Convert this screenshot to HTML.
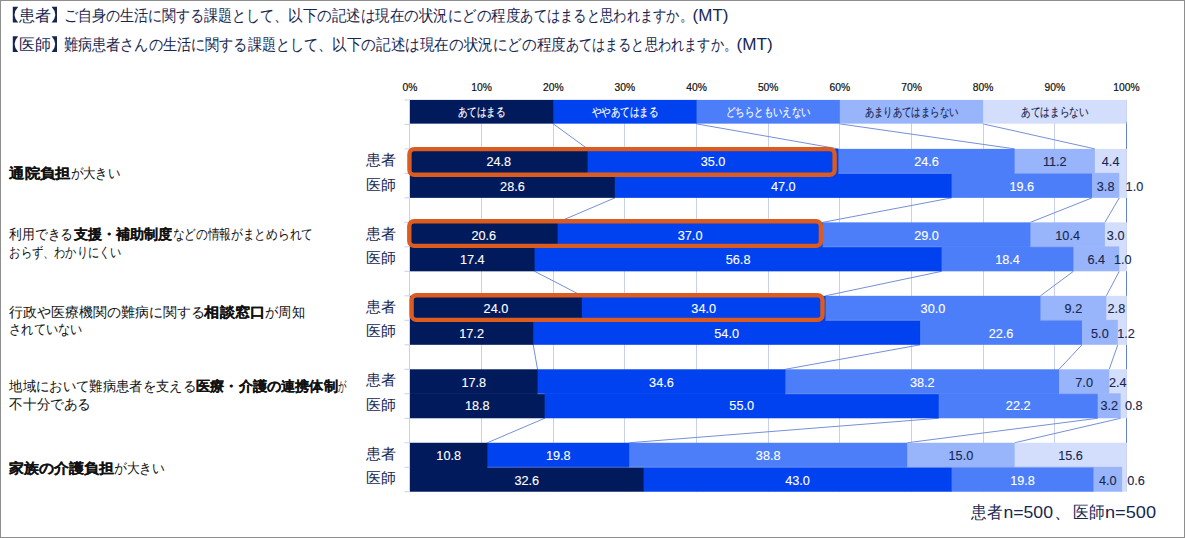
<!DOCTYPE html>
<html lang="ja">
<head>
<meta charset="utf-8">
<title>chart</title>
<style>
html,body{margin:0;padding:0;background:#fff;}
body{width:1185px;height:538px;overflow:hidden;font-family:"Liberation Sans",sans-serif;}
svg{display:block;}
</style>
</head>
<body>
<svg width="1185" height="538" viewBox="0 0 1185 538" font-family="'Liberation Sans', sans-serif">
<rect x="0" y="0" width="1185" height="538" fill="#fff"/>
<g stroke="#c9d0ee" stroke-width="1" fill="none">
<line x1="409.50" y1="99.90" x2="409.50" y2="491.74"/>
<line x1="481.50" y1="99.90" x2="481.50" y2="491.74"/>
<line x1="553.50" y1="99.90" x2="553.50" y2="491.74"/>
<line x1="624.50" y1="99.90" x2="624.50" y2="491.74"/>
<line x1="696.50" y1="99.90" x2="696.50" y2="491.74"/>
<line x1="768.50" y1="99.90" x2="768.50" y2="491.74"/>
<line x1="839.50" y1="99.90" x2="839.50" y2="491.74"/>
<line x1="911.50" y1="99.90" x2="911.50" y2="491.74"/>
<line x1="983.50" y1="99.90" x2="983.50" y2="491.74"/>
<line x1="1054.50" y1="99.90" x2="1054.50" y2="491.74"/>
<line x1="1126.50" y1="99.90" x2="1126.50" y2="491.74"/>
<line x1="404.50" y1="99.90" x2="410.00" y2="99.90"/>
<line x1="404.50" y1="124.39" x2="410.00" y2="124.39"/>
<line x1="404.50" y1="148.88" x2="410.00" y2="148.88"/>
<line x1="404.50" y1="173.37" x2="410.00" y2="173.37"/>
<line x1="404.50" y1="197.86" x2="410.00" y2="197.86"/>
<line x1="404.50" y1="222.35" x2="410.00" y2="222.35"/>
<line x1="404.50" y1="246.84" x2="410.00" y2="246.84"/>
<line x1="404.50" y1="271.33" x2="410.00" y2="271.33"/>
<line x1="404.50" y1="295.82" x2="410.00" y2="295.82"/>
<line x1="404.50" y1="320.31" x2="410.00" y2="320.31"/>
<line x1="404.50" y1="344.80" x2="410.00" y2="344.80"/>
<line x1="404.50" y1="369.29" x2="410.00" y2="369.29"/>
<line x1="404.50" y1="393.78" x2="410.00" y2="393.78"/>
<line x1="404.50" y1="418.27" x2="410.00" y2="418.27"/>
<line x1="404.50" y1="442.76" x2="410.00" y2="442.76"/>
<line x1="404.50" y1="467.25" x2="410.00" y2="467.25"/>
<line x1="404.50" y1="491.74" x2="410.00" y2="491.74"/>
</g>
<g stroke="#7690d6" stroke-width="1" fill="none">
<line x1="553.28" y1="123.89" x2="587.67" y2="148.88"/>
<line x1="696.56" y1="123.89" x2="838.41" y2="148.88"/>
<line x1="839.84" y1="123.89" x2="1014.64" y2="148.88"/>
<line x1="983.12" y1="123.89" x2="1094.88" y2="148.88"/>
<line x1="1126.5" y1="121.89" x2="1126.5" y2="148.88" stroke="#6581cc"/>
<line x1="587.67" y1="173.37" x2="614.89" y2="173.37"/>
<line x1="838.41" y1="173.37" x2="951.60" y2="173.37"/>
<line x1="1014.64" y1="173.37" x2="1092.01" y2="173.37"/>
<line x1="1094.88" y1="173.37" x2="1119.24" y2="173.37"/>
<line x1="1126.5" y1="173.37" x2="1126.5" y2="173.37" stroke="#6581cc"/>
<line x1="614.89" y1="197.86" x2="557.58" y2="222.35"/>
<line x1="951.60" y1="197.86" x2="822.65" y2="222.35"/>
<line x1="1092.01" y1="197.86" x2="1030.40" y2="222.35"/>
<line x1="1119.24" y1="197.86" x2="1104.91" y2="222.35"/>
<line x1="1126.5" y1="197.86" x2="1126.5" y2="222.35" stroke="#6581cc"/>
<line x1="557.58" y1="246.84" x2="534.65" y2="246.84"/>
<line x1="822.65" y1="246.84" x2="941.57" y2="246.84"/>
<line x1="1030.40" y1="246.84" x2="1073.39" y2="246.84"/>
<line x1="1104.91" y1="246.84" x2="1119.24" y2="246.84"/>
<line x1="1126.5" y1="246.84" x2="1126.5" y2="246.84" stroke="#6581cc"/>
<line x1="534.65" y1="271.33" x2="581.94" y2="295.82"/>
<line x1="941.57" y1="271.33" x2="825.51" y2="295.82"/>
<line x1="1073.39" y1="271.33" x2="1040.43" y2="295.82"/>
<line x1="1119.24" y1="271.33" x2="1106.34" y2="295.82"/>
<line x1="1126.5" y1="271.33" x2="1126.5" y2="295.82" stroke="#6581cc"/>
<line x1="581.94" y1="320.31" x2="533.22" y2="320.31"/>
<line x1="825.51" y1="320.31" x2="920.08" y2="320.31"/>
<line x1="1040.43" y1="320.31" x2="1081.98" y2="320.31"/>
<line x1="1106.34" y1="320.31" x2="1117.80" y2="320.31"/>
<line x1="1126.5" y1="320.31" x2="1126.5" y2="320.31" stroke="#6581cc"/>
<line x1="533.22" y1="344.80" x2="537.52" y2="369.29"/>
<line x1="920.08" y1="344.80" x2="785.39" y2="369.29"/>
<line x1="1081.98" y1="344.80" x2="1059.06" y2="369.29"/>
<line x1="1117.80" y1="344.80" x2="1109.21" y2="369.29"/>
<line x1="1126.5" y1="344.80" x2="1126.5" y2="369.29" stroke="#6581cc"/>
<line x1="537.52" y1="393.78" x2="544.68" y2="393.78"/>
<line x1="785.39" y1="393.78" x2="938.70" y2="393.78"/>
<line x1="1059.06" y1="393.78" x2="1097.74" y2="393.78"/>
<line x1="1109.21" y1="393.78" x2="1120.67" y2="393.78"/>
<line x1="1126.5" y1="393.78" x2="1126.5" y2="393.78" stroke="#6581cc"/>
<line x1="544.68" y1="418.27" x2="487.37" y2="442.76"/>
<line x1="938.70" y1="418.27" x2="629.22" y2="442.76"/>
<line x1="1097.74" y1="418.27" x2="907.18" y2="442.76"/>
<line x1="1120.67" y1="418.27" x2="1014.64" y2="442.76"/>
<line x1="1126.5" y1="418.27" x2="1126.5" y2="442.76" stroke="#6581cc"/>
<line x1="487.37" y1="467.25" x2="643.55" y2="467.25"/>
<line x1="629.22" y1="467.25" x2="951.60" y2="467.25"/>
<line x1="907.18" y1="467.25" x2="1093.45" y2="467.25"/>
<line x1="1014.64" y1="467.25" x2="1122.10" y2="467.25"/>
<line x1="1126.5" y1="467.25" x2="1126.5" y2="467.25" stroke="#6581cc"/>
</g>
<rect x="982.52" y="99.90" width="143.88" height="23.74" fill="#d3defc"/>
<rect x="839.24" y="99.90" width="143.88" height="23.74" fill="#98b5fb"/>
<rect x="695.96" y="99.90" width="143.88" height="23.74" fill="#4d7ef9"/>
<rect x="552.68" y="99.90" width="143.88" height="23.74" fill="#0041f0"/>
<rect x="410.00" y="99.90" width="143.28" height="23.74" fill="#011a5c"/>
<rect x="1118.64" y="172.77" width="7.76" height="25.09" fill="#d3defc"/>
<rect x="1091.41" y="172.77" width="27.82" height="25.09" fill="#98b5fb"/>
<rect x="951.00" y="172.77" width="141.01" height="25.09" fill="#4d7ef9"/>
<rect x="614.29" y="172.77" width="337.31" height="25.09" fill="#0041f0"/>
<rect x="410.00" y="172.77" width="204.89" height="25.09" fill="#011a5c"/>
<rect x="1118.64" y="246.24" width="7.76" height="25.09" fill="#d3defc"/>
<rect x="1072.79" y="246.24" width="46.45" height="25.09" fill="#98b5fb"/>
<rect x="940.97" y="246.24" width="132.42" height="25.09" fill="#4d7ef9"/>
<rect x="534.05" y="246.24" width="407.52" height="25.09" fill="#0041f0"/>
<rect x="410.00" y="246.24" width="124.65" height="25.09" fill="#011a5c"/>
<rect x="1117.20" y="319.71" width="9.20" height="25.09" fill="#d3defc"/>
<rect x="1081.38" y="319.71" width="36.42" height="25.09" fill="#98b5fb"/>
<rect x="919.48" y="319.71" width="162.51" height="25.09" fill="#4d7ef9"/>
<rect x="532.62" y="319.71" width="387.46" height="25.09" fill="#0041f0"/>
<rect x="410.00" y="319.71" width="123.22" height="25.09" fill="#011a5c"/>
<rect x="1120.07" y="393.18" width="6.33" height="25.09" fill="#d3defc"/>
<rect x="1097.14" y="393.18" width="23.52" height="25.09" fill="#98b5fb"/>
<rect x="938.10" y="393.18" width="159.64" height="25.09" fill="#4d7ef9"/>
<rect x="544.08" y="393.18" width="394.62" height="25.09" fill="#0041f0"/>
<rect x="410.00" y="393.18" width="134.68" height="25.09" fill="#011a5c"/>
<rect x="1121.50" y="466.65" width="4.90" height="25.09" fill="#d3defc"/>
<rect x="1092.85" y="466.65" width="29.26" height="25.09" fill="#98b5fb"/>
<rect x="951.00" y="466.65" width="142.45" height="25.09" fill="#4d7ef9"/>
<rect x="642.95" y="466.65" width="308.65" height="25.09" fill="#0041f0"/>
<rect x="410.00" y="466.65" width="233.55" height="25.09" fill="#011a5c"/>
<rect x="1094.28" y="148.88" width="32.12" height="24.49" fill="#d3defc"/>
<rect x="1014.04" y="148.88" width="80.84" height="24.49" fill="#98b5fb"/>
<rect x="837.81" y="148.88" width="176.83" height="24.49" fill="#4d7ef9"/>
<rect x="587.07" y="148.88" width="251.34" height="24.49" fill="#0041f0"/>
<rect x="410.00" y="148.88" width="177.67" height="24.49" fill="#011a5c"/>
<rect x="1104.31" y="222.35" width="22.09" height="24.49" fill="#d3defc"/>
<rect x="1029.80" y="222.35" width="75.11" height="24.49" fill="#98b5fb"/>
<rect x="822.05" y="222.35" width="208.36" height="24.49" fill="#4d7ef9"/>
<rect x="556.98" y="222.35" width="265.67" height="24.49" fill="#0041f0"/>
<rect x="410.00" y="222.35" width="147.58" height="24.49" fill="#011a5c"/>
<rect x="1105.74" y="295.82" width="20.66" height="24.49" fill="#d3defc"/>
<rect x="1039.83" y="295.82" width="66.51" height="24.49" fill="#98b5fb"/>
<rect x="824.91" y="295.82" width="215.52" height="24.49" fill="#4d7ef9"/>
<rect x="581.34" y="295.82" width="244.18" height="24.49" fill="#0041f0"/>
<rect x="410.00" y="295.82" width="171.94" height="24.49" fill="#011a5c"/>
<rect x="1108.61" y="369.29" width="17.79" height="24.49" fill="#d3defc"/>
<rect x="1058.46" y="369.29" width="50.75" height="24.49" fill="#98b5fb"/>
<rect x="784.79" y="369.29" width="274.26" height="24.49" fill="#4d7ef9"/>
<rect x="536.92" y="369.29" width="248.47" height="24.49" fill="#0041f0"/>
<rect x="410.00" y="369.29" width="127.52" height="24.49" fill="#011a5c"/>
<rect x="1014.04" y="442.76" width="112.36" height="24.49" fill="#d3defc"/>
<rect x="906.58" y="442.76" width="108.06" height="24.49" fill="#98b5fb"/>
<rect x="628.62" y="442.76" width="278.56" height="24.49" fill="#4d7ef9"/>
<rect x="486.77" y="442.76" width="142.45" height="24.49" fill="#0041f0"/>
<rect x="410.00" y="442.76" width="77.37" height="24.49" fill="#011a5c"/>
<g stroke="#8fa8ee" stroke-width="1" opacity="0.55" fill="none">
<line x1="587.67" y1="173.37" x2="614.89" y2="173.37"/>
<line x1="838.41" y1="173.37" x2="951.60" y2="173.37"/>
<line x1="1014.64" y1="173.37" x2="1092.01" y2="173.37"/>
<line x1="1094.88" y1="173.37" x2="1119.24" y2="173.37"/>
<line x1="534.65" y1="246.84" x2="557.58" y2="246.84"/>
<line x1="822.65" y1="246.84" x2="941.57" y2="246.84"/>
<line x1="1030.40" y1="246.84" x2="1073.39" y2="246.84"/>
<line x1="1104.91" y1="246.84" x2="1119.24" y2="246.84"/>
<line x1="533.22" y1="320.31" x2="581.94" y2="320.31"/>
<line x1="825.51" y1="320.31" x2="920.08" y2="320.31"/>
<line x1="1040.43" y1="320.31" x2="1081.98" y2="320.31"/>
<line x1="1106.34" y1="320.31" x2="1117.80" y2="320.31"/>
<line x1="537.52" y1="393.78" x2="544.68" y2="393.78"/>
<line x1="785.39" y1="393.78" x2="938.70" y2="393.78"/>
<line x1="1059.06" y1="393.78" x2="1097.74" y2="393.78"/>
<line x1="1109.21" y1="393.78" x2="1120.67" y2="393.78"/>
<line x1="487.37" y1="467.25" x2="643.55" y2="467.25"/>
<line x1="629.22" y1="467.25" x2="951.60" y2="467.25"/>
<line x1="907.18" y1="467.25" x2="1093.45" y2="467.25"/>
<line x1="1014.64" y1="467.25" x2="1122.10" y2="467.25"/>
</g>
<rect x="409.45" y="149.15" width="425.15" height="25.65" rx="4.8" ry="4.8" fill="none" stroke="#db5c1e" stroke-width="4.4"/>
<rect x="409.30" y="221.20" width="411.60" height="24.70" rx="4.8" ry="4.8" fill="none" stroke="#db5c1e" stroke-width="4.4"/>
<rect x="411.60" y="295.20" width="410.90" height="24.70" rx="4.8" ry="4.8" fill="none" stroke="#db5c1e" stroke-width="4.4"/>
<g font-size="10.3" fill="#111" stroke="#111" stroke-width="0.2" text-anchor="middle">
<text x="410.00" y="90.9">0%</text>
<text x="481.64" y="90.9">10%</text>
<text x="553.28" y="90.9">20%</text>
<text x="624.92" y="90.9">30%</text>
<text x="696.56" y="90.9">40%</text>
<text x="768.20" y="90.9">50%</text>
<text x="839.84" y="90.9">60%</text>
<text x="911.48" y="90.9">70%</text>
<text x="983.12" y="90.9">80%</text>
<text x="1054.76" y="90.9">90%</text>
<text x="1126.40" y="90.9">100%</text>
</g>
<g font-size="11.5" text-anchor="middle">
<text x="481.64" y="116.3" fill="#fff" stroke="#fff" stroke-width="0.15" textLength="48.0" lengthAdjust="spacingAndGlyphs">あてはまる</text>
<text x="624.92" y="116.3" fill="#fff" stroke="#fff" stroke-width="0.15" textLength="66.5" lengthAdjust="spacingAndGlyphs">ややあてはまる</text>
<text x="768.20" y="116.3" fill="#fff" stroke="#fff" stroke-width="0.15" textLength="84.1" lengthAdjust="spacingAndGlyphs">どちらともいえない</text>
<text x="911.48" y="116.3" fill="#17264f" stroke="#17264f" stroke-width="0.15" textLength="93.7" lengthAdjust="spacingAndGlyphs">あまりあてはまらない</text>
<text x="1054.76" y="116.3" fill="#17264f" stroke="#17264f" stroke-width="0.15" textLength="67.1" lengthAdjust="spacingAndGlyphs">あてはまらない</text>
</g>
<g font-size="12.7" text-anchor="middle" stroke-width="0.12">
<text x="498.83" y="165.62" fill="#fff" stroke="#fff">24.8</text>
<text x="713.04" y="165.62" fill="#fff" stroke="#fff">35.0</text>
<text x="926.52" y="165.62" fill="#fff" stroke="#fff">24.6</text>
<text x="1054.76" y="165.62" fill="#17264f" stroke="#17264f">11.2</text>
<text x="1110.64" y="165.62" fill="#17264f" stroke="#17264f">4.4</text>
<text x="512.45" y="190.92" fill="#fff" stroke="#fff">28.6</text>
<text x="783.24" y="190.92" fill="#fff" stroke="#fff">47.0</text>
<text x="1021.81" y="190.92" fill="#fff" stroke="#fff">19.6</text>
<text x="1105.62" y="190.92" fill="#17264f" stroke="#17264f">3.8</text>
<text x="1134.40" y="190.92" fill="#17264f" stroke="#17264f">1.0</text>
<text x="483.79" y="239.90" fill="#fff" stroke="#fff">20.6</text>
<text x="690.11" y="239.90" fill="#fff" stroke="#fff">37.0</text>
<text x="926.52" y="239.90" fill="#fff" stroke="#fff">29.0</text>
<text x="1067.66" y="239.90" fill="#17264f" stroke="#17264f">10.4</text>
<text x="1115.65" y="239.90" fill="#17264f" stroke="#17264f">3.0</text>
<text x="472.33" y="263.58" fill="#fff" stroke="#fff">17.4</text>
<text x="738.11" y="263.58" fill="#fff" stroke="#fff">56.8</text>
<text x="1007.48" y="263.58" fill="#fff" stroke="#fff">18.4</text>
<text x="1096.31" y="263.58" fill="#17264f" stroke="#17264f">6.4</text>
<text x="1122.82" y="263.58" fill="#17264f" stroke="#17264f">1.0</text>
<text x="495.97" y="312.56" fill="#fff" stroke="#fff">24.0</text>
<text x="703.72" y="312.56" fill="#fff" stroke="#fff">34.0</text>
<text x="932.97" y="312.56" fill="#fff" stroke="#fff">30.0</text>
<text x="1073.39" y="312.56" fill="#17264f" stroke="#17264f">9.2</text>
<text x="1116.37" y="312.56" fill="#17264f" stroke="#17264f">2.8</text>
<text x="471.61" y="338.06" fill="#fff" stroke="#fff">17.2</text>
<text x="726.65" y="338.06" fill="#fff" stroke="#fff">54.0</text>
<text x="1001.03" y="338.06" fill="#fff" stroke="#fff">22.6</text>
<text x="1099.89" y="338.06" fill="#17264f" stroke="#17264f">5.0</text>
<text x="1126.00" y="338.06" fill="#17264f" stroke="#17264f">1.2</text>
<text x="473.76" y="386.83" fill="#fff" stroke="#fff">17.8</text>
<text x="661.46" y="386.83" fill="#fff" stroke="#fff">34.6</text>
<text x="922.23" y="386.83" fill="#fff" stroke="#fff">38.2</text>
<text x="1084.13" y="386.83" fill="#17264f" stroke="#17264f">7.0</text>
<text x="1117.80" y="386.83" fill="#17264f" stroke="#17264f">2.4</text>
<text x="477.34" y="410.12" fill="#fff" stroke="#fff">18.8</text>
<text x="741.69" y="410.12" fill="#fff" stroke="#fff">55.0</text>
<text x="1018.22" y="410.12" fill="#fff" stroke="#fff">22.2</text>
<text x="1109.21" y="410.12" fill="#17264f" stroke="#17264f">3.2</text>
<text x="1133.80" y="410.12" fill="#17264f" stroke="#17264f">0.8</text>
<text x="448.69" y="459.50" fill="#fff" stroke="#fff">10.8</text>
<text x="558.29" y="459.50" fill="#fff" stroke="#fff">19.8</text>
<text x="768.20" y="459.50" fill="#fff" stroke="#fff">38.8</text>
<text x="960.91" y="459.50" fill="#17264f" stroke="#17264f">15.0</text>
<text x="1070.52" y="459.50" fill="#17264f" stroke="#17264f">15.6</text>
<text x="526.77" y="485.19" fill="#fff" stroke="#fff">32.6</text>
<text x="797.57" y="485.19" fill="#fff" stroke="#fff">43.0</text>
<text x="1022.52" y="485.19" fill="#fff" stroke="#fff">19.8</text>
<text x="1107.77" y="485.19" fill="#17264f" stroke="#17264f">4.0</text>
<text x="1136.00" y="485.19" fill="#17264f" stroke="#17264f">0.6</text>
</g>
<g font-size="15.2" fill="#17264f">
<text x="366.20" y="165.03" textLength="29.80" lengthAdjust="spacingAndGlyphs">患者</text>
<text x="366.20" y="189.52" textLength="29.80" lengthAdjust="spacingAndGlyphs">医師</text>
<text x="366.20" y="238.50" textLength="29.80" lengthAdjust="spacingAndGlyphs">患者</text>
<text x="366.20" y="262.98" textLength="29.80" lengthAdjust="spacingAndGlyphs">医師</text>
<text x="366.20" y="311.96" textLength="29.80" lengthAdjust="spacingAndGlyphs">患者</text>
<text x="366.20" y="336.45" textLength="29.80" lengthAdjust="spacingAndGlyphs">医師</text>
<text x="366.20" y="385.43" textLength="29.80" lengthAdjust="spacingAndGlyphs">患者</text>
<text x="366.20" y="409.92" textLength="29.80" lengthAdjust="spacingAndGlyphs">医師</text>
<text x="366.20" y="458.90" textLength="29.80" lengthAdjust="spacingAndGlyphs">患者</text>
<text x="366.20" y="483.39" textLength="29.80" lengthAdjust="spacingAndGlyphs">医師</text>
</g>
<g font-size="14.2" fill="#111">
<text x="9.30" y="178.40" textLength="61.30" lengthAdjust="spacingAndGlyphs" font-weight="bold" stroke="#111" stroke-width="0.12">通院負担</text>
<text x="70.60" y="178.40" textLength="49.80" lengthAdjust="spacingAndGlyphs">が大きい</text>
<text x="9.30" y="239.20" textLength="63.80" lengthAdjust="spacingAndGlyphs">利用できる</text>
<text x="74.00" y="239.20" textLength="98.40" lengthAdjust="spacingAndGlyphs" font-weight="bold" stroke="#111" stroke-width="0.12">支援・補助制度</text>
<text x="172.60" y="239.20" textLength="140.30" lengthAdjust="spacingAndGlyphs">などの情報がまとめられて</text>
<text x="9.30" y="257.20" textLength="112.10" lengthAdjust="spacingAndGlyphs">おらず、わかりにくい</text>
<text x="9.30" y="317.10" textLength="195.30" lengthAdjust="spacingAndGlyphs">行政や医療機関の難病に関する</text>
<text x="204.40" y="317.10" textLength="60.70" lengthAdjust="spacingAndGlyphs" font-weight="bold" stroke="#111" stroke-width="0.12">相談窓口</text>
<text x="265.30" y="317.10" textLength="39.60" lengthAdjust="spacingAndGlyphs">が周知</text>
<text x="9.30" y="334.40" textLength="73.10" lengthAdjust="spacingAndGlyphs">されていない</text>
<text x="9.30" y="391.40" textLength="186.60" lengthAdjust="spacingAndGlyphs">地域において難病患者を支える</text>
<text x="196.10" y="391.40" textLength="141.70" lengthAdjust="spacingAndGlyphs" font-weight="bold" stroke="#111" stroke-width="0.12">医療・介護の連携体制</text>
<text x="338.00" y="391.40" textLength="8.40" lengthAdjust="spacingAndGlyphs">が</text>
<text x="9.30" y="408.80" textLength="81.80" lengthAdjust="spacingAndGlyphs">不十分である</text>
<text x="9.30" y="473.20" textLength="104.60" lengthAdjust="spacingAndGlyphs" font-weight="bold" stroke="#111" stroke-width="0.12">家族の介護負担</text>
<text x="113.80" y="473.20" textLength="51.00" lengthAdjust="spacingAndGlyphs">が大きい</text>
</g>
<g font-size="16" fill="#17264f">
<path d="M18.20,6.80 L12.80,6.80 L12.80,22.60 L18.20,22.60 Q10.91,14.70 18.20,6.80 Z"/>
<text x="19.10" y="20.50" textLength="31.90" lengthAdjust="spacingAndGlyphs">患者</text>
<path d="M51.60,6.80 L57.00,6.80 L57.00,22.60 L51.60,22.60 Q58.89,14.70 51.60,6.80 Z"/>
<text x="63.70" y="20.50" textLength="224.70" lengthAdjust="spacingAndGlyphs">ご自身の生活に関する課題として、</text>
<text x="288.20" y="20.50" textLength="232.00" lengthAdjust="spacingAndGlyphs">以下の記述は現在の状況にどの程度</text>
<text x="520.40" y="20.50" textLength="172.50" lengthAdjust="spacingAndGlyphs">あてはまると思われますか。</text>
<text x="692.60" y="20.50" textLength="35.90" lengthAdjust="spacingAndGlyphs">(MT)</text>
<path d="M18.20,36.20 L12.80,36.20 L12.80,52.00 L18.20,52.00 Q10.91,44.10 18.20,36.20 Z"/>
<text x="19.10" y="50.00" textLength="31.90" lengthAdjust="spacingAndGlyphs">医師</text>
<path d="M51.60,36.20 L57.00,36.20 L57.00,52.00 L51.60,52.00 Q58.89,44.10 51.60,36.20 Z"/>
<text x="63.70" y="50.00" textLength="268.70" lengthAdjust="spacingAndGlyphs">難病患者さんの生活に関する課題として、</text>
<text x="332.10" y="50.00" textLength="233.70" lengthAdjust="spacingAndGlyphs">以下の記述は現在の状況にどの程度</text>
<text x="565.60" y="50.00" textLength="171.30" lengthAdjust="spacingAndGlyphs">あてはまると思われますか。</text>
<text x="736.60" y="50.00" textLength="36.10" lengthAdjust="spacingAndGlyphs">(MT)</text>
</g>
<g font-size="17" fill="#17264f">
<text x="971.10" y="518.20" textLength="31.10" lengthAdjust="spacingAndGlyphs">患者</text>
<text x="1003.40" y="518.20" textLength="49.60" lengthAdjust="spacingAndGlyphs">n=500</text>
<text x="1054.10" y="518.20" textLength="17.30" lengthAdjust="spacingAndGlyphs">、</text>
<text x="1072.90" y="518.20" textLength="31.40" lengthAdjust="spacingAndGlyphs">医師</text>
<text x="1105.00" y="518.20" textLength="51.10" lengthAdjust="spacingAndGlyphs">n=500</text>
</g>
<rect x="0.5" y="0.5" width="1184" height="537" fill="none" stroke="#8e8e8e" stroke-width="1"/>
</svg>
</body>
</html>
